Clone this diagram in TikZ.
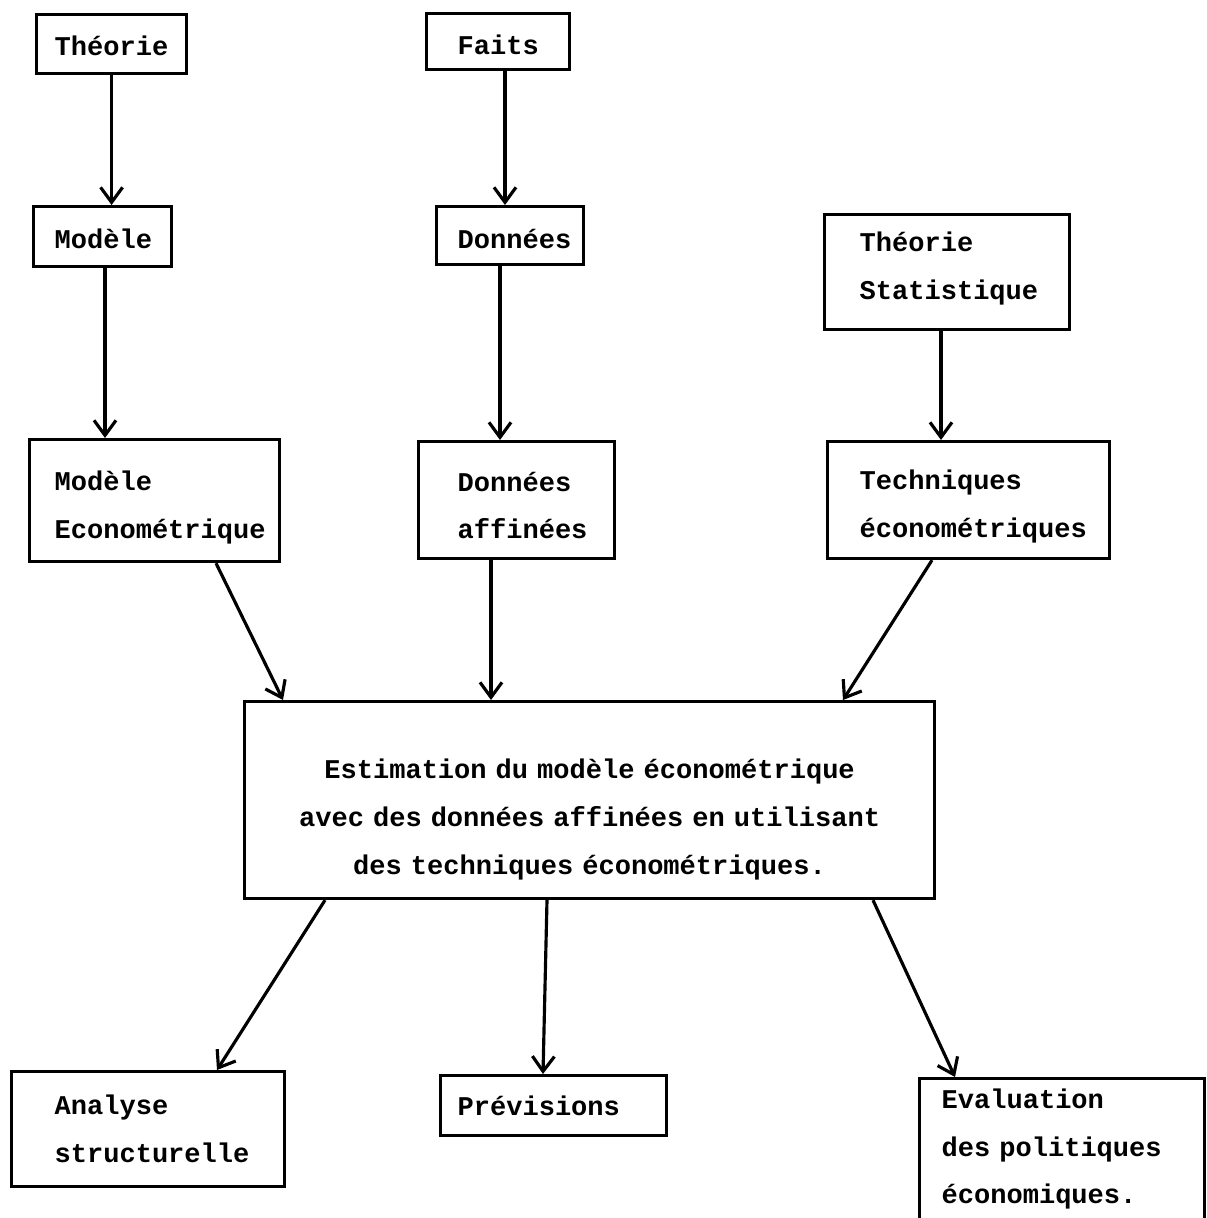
\documentclass[tikz,border=0pt]{standalone}
\usepackage{fontspec}
\setmonofont{Liberation Mono}
\usetikzlibrary{arrows.meta}
\newcommand{\machine}{\ttfamily\bfseries\fontsize{7.7}{13.6}\selectfont
  \fontdimen2\font=0.6em\fontdimen3\font=0pt\fontdimen4\font=0pt\relax}
\newcommand{\haut}[1]{\vrule height #1 width 0pt\relax}

\begin{document}
\begin{tikzpicture}[
    boite/.style={draw, line width=0.9pt, anchor=north west, align=left, inner ysep=0pt, font=\machine},
    fleche/.style={line width=0.9pt, -{Straight Barb[length=1.5mm,width=2.2mm]}}]
    \useasboundingbox (0,0) rectangle (12.07,-12.18);
    % ligne du haut
    \node[boite, text width=1.14cm, inner xsep=0.18cm, minimum height=0.59cm] (theo) at (0.35,-0.13) {\haut{0.24cm}Théorie};
    \node[boite, text width=0.81cm, inner xsep=0.31cm, minimum height=0.56cm] (faits) at (4.25,-0.12) {\haut{0.26cm}Faits};
    \node[boite, text width=0.96cm, inner xsep=0.21cm, minimum height=0.60cm] (modele) at (0.32,-2.05) {\haut{0.24cm}Modèle};
    \node[boite, text width=1.05cm, inner xsep=0.21cm, minimum height=0.58cm] (donnees) at (4.35,-2.05) {\haut{0.26cm}Données};
    \node[boite, text width=1.75cm, inner xsep=0.35cm, minimum height=1.15cm, text depth=0.60cm] (tstat) at (8.23,-2.13) {Théorie\\Statistique};
    % entrees de l'estimation
    \node[boite, text width=2.00cm, inner xsep=0.25cm, minimum height=1.22cm] (meco) at (0.28,-4.38) {\haut{0.33cm}Modèle\\Econométrique};
    \node[boite, text width=1.18cm, inner xsep=0.39cm, minimum height=1.17cm] (daff) at (4.17,-4.40) {\haut{0.30cm}Données\\affinées};
    \node[boite, text width=2.18cm, inner xsep=0.32cm, minimum height=1.17cm] (tech) at (8.26,-4.40) {\haut{0.33cm}Techniques\\économétriques};
    \node[boite, align=center, text width=6.50cm, inner xsep=0.20cm, minimum height=1.97cm] (estim) at (2.43,-7.00)
        {\haut{0.58cm}Estimation du modèle économétrique\\avec des données affinées en utilisant\\des techniques économétriques.};
    % sorties
    \node[boite, text width=1.87cm, inner xsep=0.43cm, minimum height=1.15cm] (analyse) at (0.10,-10.70) {Analyse\\structurelle};
    \node[boite, text width=1.92cm, inner xsep=0.17cm, minimum height=0.60cm] (prev) at (4.39,-10.74) {Prévisions};
    \node[boite, text width=2.41cm, inner xsep=0.22cm, inner ysep=0.10cm, text depth=1.40cm] (eval) at (9.18,-10.77) {Evaluation\\des politiques\\économiques.};

    \draw[fleche] (theo.south) -- (theo.south |- modele.north);
    \draw[fleche] ([xshift=0.80cm]faits.south west) -- ([xshift=0.80cm]faits.south west |- donnees.north);
    \draw[fleche] ([xshift=0.73cm]modele.south west) -- ([xshift=0.73cm]modele.south west |- meco.north);
    \draw[fleche] ([xshift=0.65cm]donnees.south west) -- ([xshift=0.65cm]donnees.south west |- daff.north);
    \draw[fleche] ([xshift=1.18cm]tstat.south west) -- ([xshift=1.18cm]tstat.south west |- tech.north);
    \draw[fleche] ([xshift=1.88cm]meco.south west) -- ([xshift=0.40cm]estim.north west);
    \draw[fleche] ([xshift=0.74cm]daff.south west) -- ([xshift=0.74cm]daff.south west |- estim.north);
    \draw[fleche] ([xshift=1.06cm]tech.south west) -- ([xshift=6.00cm]estim.north west);
    \draw[fleche] ([xshift=0.82cm]estim.south west) -- ([xshift=2.07cm]analyse.north west);
    \draw[fleche] ([xshift=3.04cm]estim.south west) -- ([xshift=1.04cm]prev.north west);
    \draw[fleche] ([xshift=6.30cm]estim.south west) -- ([xshift=0.37cm]eval.north west);
\end{tikzpicture}
\end{document}
